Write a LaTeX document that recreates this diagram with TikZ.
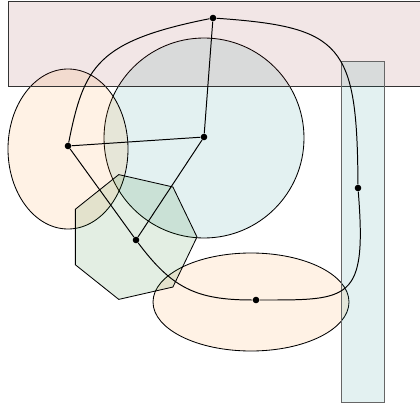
\documentclass[tikz,border=0pt]{standalone}
\usepackage{xcolor}
\usepackage{tikz}
\usetikzlibrary{calc}
\definecolor{alanPembe}{HTML}{8A1C1C}
\definecolor{alanMavi}{HTML}{008080}
\definecolor{alanTuruncu}{HTML}{FF8000}
\definecolor{alanYesil}{HTML}{006400}
\tikzset{
  nokta/.style={circle,fill=black,inner sep=0pt,minimum size=4.7pt},
  bolge/.style={line width=0.6pt,fill opacity=0.11},
  kenar/.style={line width=0.7pt},
}

\begin{document}
\begin{tikzpicture}[scale=0.25]
\useasboundingbox (0,0) rectangle (42,40.7);
% bolgeler
\draw[bolge,fill=alanMavi] (20.4,26.9) circle (10);
\draw[bolge,fill=alanTuruncu,fill opacity=0.1] (6.8,25.8) ellipse (6 and 8);
\draw[bolge,fill=alanTuruncu,fill opacity=0.1] (25.1,10.5) ellipse (9.8 and 4.9);
\draw[bolge,fill=alanYesil,shift={(13.3,17)}] (0:6.4) \foreach \k in {1,...,6}{ -- ({360/7*\k}:6.4)} -- cycle;
\draw[bolge,draw=black!80,fill=alanPembe] (0.8,32.1) rectangle (42.5,40.6);
\draw[bolge,draw=black!60,fill=alanMavi] (34.1,0.5) rectangle (38.4,34.6);
% noktalar
\node[nokta] (a) at (21.3,38.9) {};
\node[nokta] (b) at (20.4,27.0) {};
\node[nokta] (c) at (6.8,26.1) {};
\node[nokta] (d) at (13.6,16.7) {};
\node[nokta] (e) at (35.8,21.9) {};
\node[nokta] (f) at (25.6,10.7) {};
% kenarlar
\draw[kenar] (a) -- (b);
\draw[kenar] (c) -- (b);
\draw[kenar] (c) -- (d);
\draw[kenar] (b) -- (d);
\draw[kenar] (a) .. controls (9.7,36.58) and (8.4,34.1) .. (c);
\draw[kenar] (a) .. controls (34.26,38.0) and (35.71,36.29) .. (e);
\draw[kenar] (e) .. controls (36.7,10.5) and (35.0,10.7) .. (f);
\draw[kenar] (d) .. controls (17.2,11.9) and (19.6,10.7) .. (f);
\end{tikzpicture}
\end{document}
